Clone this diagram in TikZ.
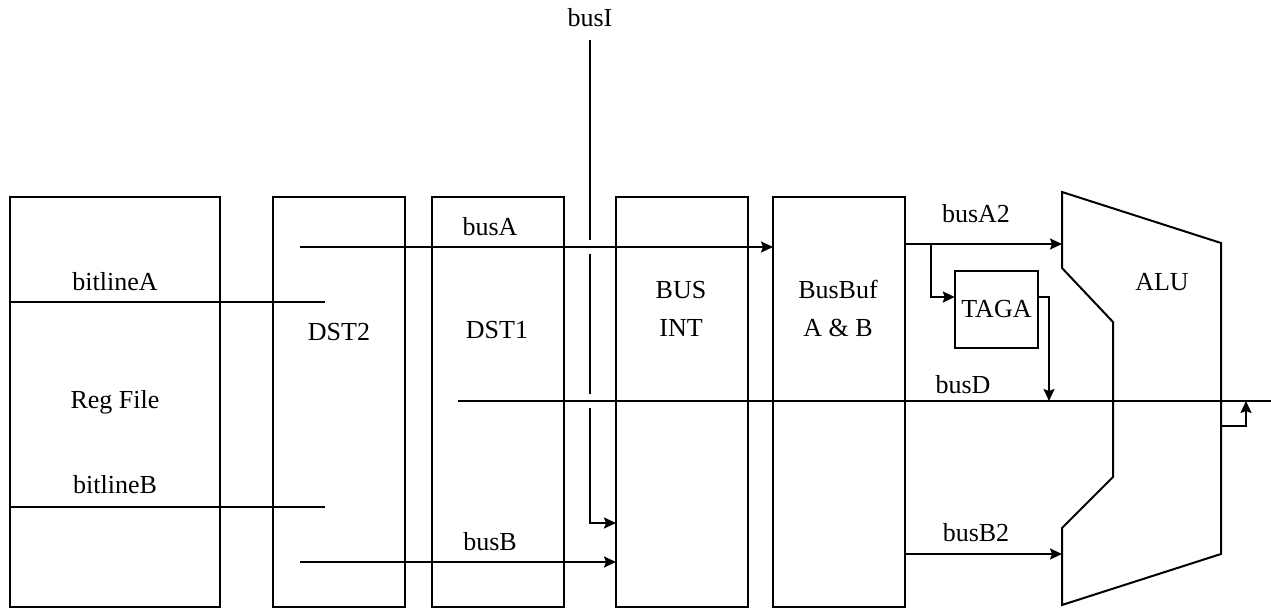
\documentclass[tikz,border=0pt]{standalone}
\usepackage{fontspec}
\setmainfont{Liberation Serif}
\usetikzlibrary{positioning,arrows.meta}

\begin{document}
\begin{tikzpicture}[x=0.5pt, y=-0.5pt, line width=1pt,
  every node/.style={font=\fontsize{13}{19}\selectfont},
  blk/.style={draw, outer sep=0pt, minimum width=66pt, minimum height=205pt},
  arr/.style={-{Stealth[length=6pt,width=5.5pt,inset=1pt]}}]
\useasboundingbox (0,0) rectangle (1271,610);
% pipeline blocks
\node[blk, minimum width=105pt] (regf) at (115,402) {Reg File};
\node[blk, right=26.5pt of regf] (dst2) {};
\node[blk, right=13.5pt of dst2] (dst1) {};
\node[blk, right=26pt of dst1] (busint) {};
\node[blk, right=12.5pt of busint] (busbuf) {};
\node[draw, outer sep=0pt, minimum width=39.5pt, minimum height=38.5pt] (taga) at (996.5,309.5) {TAGA};
\draw (1062,192) -- (1221,243) -- (1221,554) -- (1062,605) -- (1062,528) -- (1113,477) -- (1113,322) -- (1062,268) -- cycle;
% labels
\node (dst2lbl) at (339,332) {DST2};
\node (dst1lbl) at (497,330) {DST1};
\node[align=center] (busintlbl) at (681,309) {BUS\\INT};
\node[align=center] (busbuflbl) at (838,308) {BusBuf\\A \& B};
\node (alulbl) at (1162,282) {ALU};
\node (bitAlbl) at (115,282) {bitlineA};
\node (bitBlbl) at (115,485) {bitlineB};
\node (busAlbl) at (490,227) {busA};
\node (busBlbl) at (490,542) {busB};
\node (busIlbl) at (590,18) {busI};
\node (busA2lbl) at (976,214) {busA2};
\node (busDlbl) at (963,385) {busD};
\node (busB2lbl) at (976,533) {busB2};
% wire ends
\coordinate (bitA) at (325,302); \coordinate (bitB) at (325,507);
\coordinate (busAin) at (300,247); \coordinate (busBin) at (300,562);
\coordinate (busItop) at (590,40); \coordinate (busIin) at (616,523);
\coordinate (busDl) at (458,401); \coordinate (busDr) at (1271,401);
\coordinate (aluA) at (1062,244); \coordinate (aluB) at (1062,554);
\coordinate (tagaD) at (1049,401); \coordinate (aluD) at (1246,401);
% wires
\draw (regf.west |- bitA) -- (bitA); \draw (regf.west |- bitB) -- (bitB);
\draw[arr] (busAin) -- (busAin -| busbuf.west); \draw[arr] (busBin) -- (busBin -| busint.west);
\draw (busItop) -- (590,240) (590,254) -- (590,394); \draw[arr] (590,408) |- (busIin);
\draw (busDl) -- (busDr);
\draw[arr] (busbuf.east |- aluA) -- (aluA); \draw[arr] (busbuf.east |- aluB) -- (aluB);
\draw[arr] (931,244) |- ([yshift=6.25pt]taga.west); \draw[arr] ([yshift=6.25pt]taga.east) -| (tagaD);
\draw[arr] (1221,426) -| (aluD);
\end{tikzpicture}
\end{document}
